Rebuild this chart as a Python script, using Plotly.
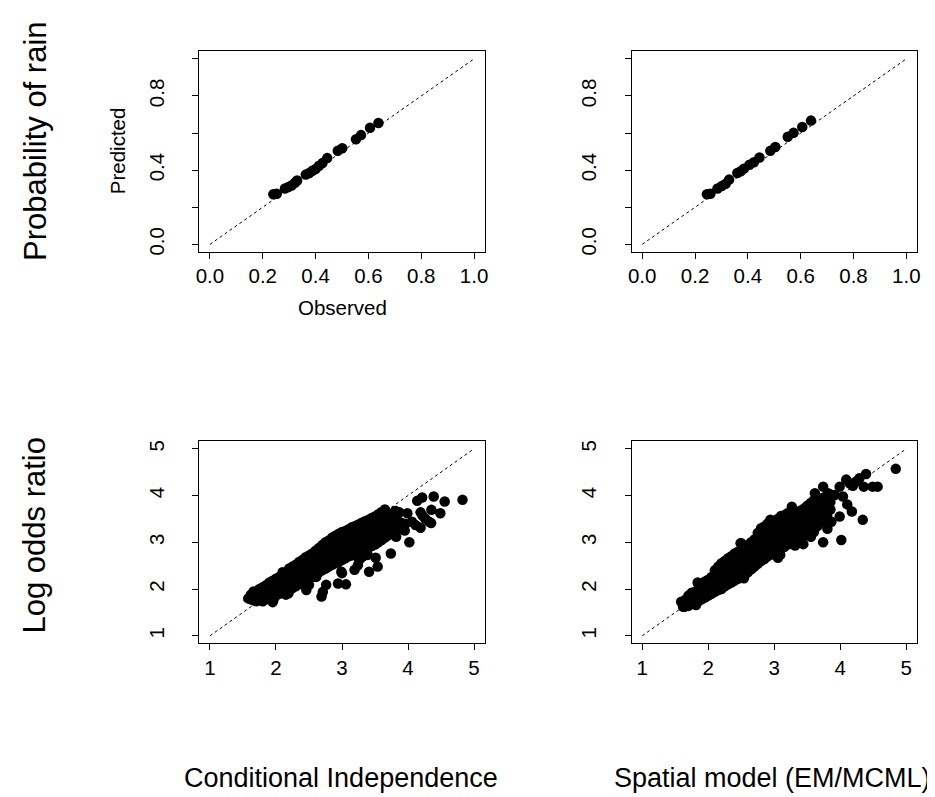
import plotly.graph_objects as go

W, H = 935, 797

# ---------------- data ----------------
prob_ci_obs = [0.240, 0.253, 0.284, 0.297, 0.309, 0.322, 0.330, 0.363, 0.376, 0.388,
               0.400, 0.413, 0.426, 0.444, 0.484, 0.501, 0.553, 0.572, 0.606, 0.638]
prob_ci_pred = [0.270, 0.273, 0.301, 0.309, 0.317, 0.332, 0.344, 0.376, 0.385, 0.397,
                0.406, 0.424, 0.438, 0.465, 0.504, 0.518, 0.567, 0.589, 0.628, 0.654]

prob_sp_obs = [0.245, 0.258, 0.285, 0.301, 0.316, 0.329, 0.360, 0.373, 0.385, 0.406,
               0.423, 0.444, 0.485, 0.504, 0.551, 0.573, 0.606, 0.639]
prob_sp_pred = [0.270, 0.273, 0.301, 0.314, 0.326, 0.349, 0.385, 0.394, 0.408, 0.429,
                0.443, 0.468, 0.504, 0.525, 0.580, 0.601, 0.633, 0.667]

# Conditional independence: observed log odds ratio (x) -> predicted values (y)
ci_rows = [
    (1.58, [1.80]), (1.62, [1.78, 1.88]), (1.66, [1.76, 1.86, 1.95]), (1.70, [1.74, 1.84, 1.94]),
    (1.75, [1.76, 1.88, 2.00]), (1.80, [1.74, 1.84, 1.94, 2.04]), (1.85, [1.78, 1.88, 1.98, 2.08]),
    (1.90, [1.80, 1.92, 2.04, 2.14]), (1.95, [1.72, 1.84, 1.96, 2.08, 2.18]),
    (2.00, [1.86, 1.98, 2.10, 2.22]), (2.05, [1.90, 2.02, 2.14, 2.26]),
    (2.10, [1.94, 2.06, 2.18, 2.30, 2.36]), (2.15, [1.88, 1.98, 2.10, 2.22, 2.34]),
    (2.20, [2.00, 2.12, 2.24, 2.36, 2.44]), (2.25, [2.02, 2.16, 2.28, 2.40, 2.48]),
    (2.30, [2.06, 2.20, 2.32, 2.44, 2.52]), (2.35, [2.10, 2.24, 2.36, 2.48, 2.58]),
    (2.40, [2.14, 2.28, 2.40, 2.52, 2.62]), (2.45, [2.18, 2.32, 2.44, 2.56, 2.68]),
    (2.50, [2.22, 2.36, 2.48, 2.60, 2.72]), (2.55, [2.26, 2.40, 2.52, 2.64, 2.76]),
    (2.60, [2.30, 2.44, 2.56, 2.68, 2.82]), (2.65, [2.36, 2.48, 2.60, 2.74, 2.88]),
    (2.70, [2.40, 2.52, 2.66, 2.80, 2.94]), (2.75, [2.44, 2.58, 2.72, 2.86, 3.00]),
    (2.80, [2.48, 2.62, 2.76, 2.90, 3.04]), (2.85, [2.52, 2.66, 2.80, 2.94, 3.10]),
    (2.90, [2.55, 2.70, 2.84, 2.98, 3.14]), (2.95, [2.58, 2.72, 2.88, 3.02, 3.18]),
    (3.00, [2.62, 2.76, 2.90, 3.06, 3.22]), (3.05, [2.66, 2.80, 2.94, 3.10, 3.24]),
    (3.10, [2.70, 2.84, 2.98, 3.14, 3.28]), (3.15, [2.72, 2.88, 3.02, 3.18, 3.32]),
    (3.20, [2.76, 2.92, 3.06, 3.22, 3.35]), (3.25, [2.80, 2.96, 3.10, 3.26, 3.38]),
    (3.30, [2.82, 2.98, 3.14, 3.30, 3.42]), (3.35, [2.86, 3.02, 3.18, 3.34, 3.45]),
    (3.40, [2.88, 3.04, 3.20, 3.36, 3.48]), (3.45, [2.92, 3.08, 3.24, 3.40, 3.52]),
    (3.50, [2.95, 3.12, 3.28, 3.44, 3.55]), (3.55, [3.00, 3.16, 3.32, 3.48, 3.60]),
    (3.60, [3.05, 3.20, 3.36, 3.52, 3.65]), (3.65, [3.10, 3.26, 3.42, 3.58, 3.70]),
    (3.70, [3.15, 3.30, 3.46, 3.62]), (3.75, [3.20, 3.36, 3.52]),
    (3.80, [3.22, 3.40, 3.55]), (3.85, [3.28, 3.45]), (3.90, [3.30, 3.42]), (3.95, [3.25]),
]
ci_extra_x = [4.825, 4.555, 4.389, 4.214, 4.139, 4.354, 4.489, 4.19, 4.22, 4.26, 4.32, 4.35,
              4.114, 4.19, 4.02, 3.99, 4.06, 3.96, 3.81, 3.87, 3.76, 3.82, 3.74, 3.69,
              3.54, 3.51, 3.41, 3.39, 3.39, 3.19, 3.24, 3.06, 2.94, 3.00, 2.99, 2.76,
              2.71, 2.69, 2.61, 2.46, 2.50, 2.56, 2.19, 1.96, 3.31, 3.26]
ci_extra_y = [3.907, 3.871, 3.979, 3.957, 3.886, 3.693, 3.621, 3.64, 3.57, 3.51, 3.44, 3.41,
              3.371, 3.31, 3.00, 3.62, 3.44, 3.39, 3.67, 3.64, 3.37, 3.12, 2.76, 3.16,
              2.48, 2.67, 2.37, 2.73, 2.94, 2.41, 2.51, 2.10, 2.12, 2.34, 2.37, 2.09,
              1.94, 1.84, 2.26, 1.98, 2.09, 2.26, 1.91, 1.76, 2.69, 2.62]

# Spatial model (EM/MCML)
sp_rows = [
    (1.62, [1.62, 1.72]), (1.66, [1.66, 1.78]), (1.70, [1.64, 1.75, 1.86]),
    (1.75, [1.68, 1.80, 1.92]), (1.80, [1.70, 1.82, 1.94]),
    (1.85, [1.74, 1.86, 1.98, 2.12]), (1.90, [1.78, 1.90, 2.02]),
    (1.95, [1.82, 1.94, 2.06, 2.16]), (2.00, [1.86, 1.98, 2.10, 2.20]),
    (2.05, [1.90, 2.02, 2.14, 2.26]), (2.10, [1.94, 2.06, 2.18, 2.30, 2.40]),
    (2.15, [1.98, 2.10, 2.22, 2.34, 2.48]), (2.20, [2.00, 2.14, 2.28, 2.42, 2.55]),
    (2.25, [2.06, 2.18, 2.32, 2.46, 2.60]), (2.30, [2.10, 2.24, 2.38, 2.52, 2.66]),
    (2.35, [2.14, 2.28, 2.42, 2.56, 2.70]), (2.40, [2.18, 2.32, 2.46, 2.60, 2.76]),
    (2.45, [2.22, 2.36, 2.50, 2.64, 2.80]), (2.50, [2.26, 2.40, 2.54, 2.68, 2.84, 2.98]),
    (2.55, [2.30, 2.44, 2.58, 2.72, 2.88]), (2.60, [2.36, 2.50, 2.64, 2.78, 2.94]),
    (2.65, [2.42, 2.56, 2.70, 2.84, 3.00]), (2.70, [2.48, 2.62, 2.76, 2.90, 3.06]),
    (2.75, [2.54, 2.68, 2.82, 2.96, 3.12, 3.20]), (2.80, [2.60, 2.74, 2.88, 3.02, 3.16, 3.30]),
    (2.85, [2.64, 2.78, 2.92, 3.06, 3.20, 3.34]), (2.90, [2.70, 2.84, 2.98, 3.12, 3.26, 3.40]),
    (2.95, [2.74, 2.88, 3.02, 3.16, 3.30, 3.46]), (3.00, [2.78, 2.92, 3.06, 3.20, 3.34, 3.46]),
    (3.05, [2.82, 2.96, 3.10, 3.24, 3.38, 3.50]), (3.10, [2.86, 3.00, 3.14, 3.28, 3.42, 3.56]),
    (3.15, [2.90, 3.04, 3.18, 3.32, 3.46, 3.58]), (3.20, [2.95, 3.08, 3.22, 3.36, 3.50, 3.62]),
    (3.25, [3.00, 3.12, 3.26, 3.40, 3.54, 3.64]), (3.30, [3.04, 3.16, 3.30, 3.44, 3.58, 3.66]),
    (3.35, [3.08, 3.20, 3.34, 3.48, 3.62]), (3.40, [3.10, 3.24, 3.38, 3.52, 3.68]),
    (3.45, [3.14, 3.28, 3.42, 3.56, 3.72]), (3.50, [3.16, 3.30, 3.46, 3.62, 3.78]),
    (3.55, [3.20, 3.36, 3.52, 3.68, 3.84]), (3.60, [3.22, 3.40, 3.56, 3.72, 3.90]),
    (3.65, [3.34, 3.50, 3.66, 3.82, 3.96]), (3.70, [3.42, 3.58, 3.74, 3.90]),
    (3.75, [3.50, 3.66, 3.82, 3.96]), (3.80, [3.58, 3.74, 3.90, 4.00]),
    (3.85, [3.70, 3.86, 4.02]),
]
sp_extra_x = [4.84, 4.565, 4.49, 4.39, 4.29, 4.24, 4.19, 4.09, 4.14, 4.355, 4.04, 3.99,
              3.915, 3.815, 3.74, 3.615, 4.105, 4.175, 4.34, 3.99, 4.015, 3.865, 3.815,
              3.805, 3.74, 3.555, 3.44, 3.315, 3.59, 3.465, 3.265, 3.09, 2.94, 2.865,
              3.055, 2.54, 2.49, 2.765, 1.84, 1.59, 1.64, 1.815]
sp_extra_y = [4.57, 4.19, 4.19, 4.46, 4.37, 4.30, 4.21, 4.34, 4.26, 4.19, 3.98, 4.19,
              4.01, 4.05, 4.19, 4.05, 3.81, 3.66, 3.48, 3.55, 3.05, 3.44, 3.48,
              3.29, 3.00, 3.12, 2.96, 2.93, 3.34, 3.30, 3.76, 2.73, 3.48, 3.19,
              2.67, 2.23, 2.98, 3.05, 2.14, 1.73, 1.62, 1.66]

prob_ticks = [0.0, 0.2, 0.4, 0.6, 0.8, 1.0]
prob_xtext = ["0.0", "0.2", "0.4", "0.6", "0.8", "1.0"]
prob_ytext = ["0.0", "", "0.4", "", "0.8", ""]
lor_ticks = [1, 2, 3, 4, 5]
lor_text = ["1", "2", "3", "4", "5"]

# ---------------- figure ----------------
def expand(rows, ex, ey):
    xs, ys = [], []
    for x, yl in rows:
        for y in yl:
            xs.append(x)
            ys.append(y)
    return xs + ex, ys + ey

ci_x, ci_y = expand(ci_rows, ci_extra_x, ci_extra_y)
sp_x, sp_y = expand(sp_rows, sp_extra_x, sp_extra_y)

FONT = "Liberation Sans, Arial, Helvetica, sans-serif"
fig = go.Figure()
MS = 10.5

panels = [
    ("x", "y", prob_ci_obs, prob_ci_pred, [0, 1]),
    ("x2", "y2", prob_sp_obs, prob_sp_pred, [0, 1]),
    ("x3", "y3", ci_x, ci_y, [1, 5]),
    ("x4", "y4", sp_x, sp_y, [1, 5]),
]
for xa, ya, xs, ys, diag in panels:
    fig.add_trace(go.Scatter(x=diag, y=diag, mode="lines", xaxis=xa, yaxis=ya,
                             line=dict(color="black", width=1, dash="dot"),
                             hoverinfo="skip", showlegend=False))
    fig.add_trace(go.Scatter(x=xs, y=ys, mode="markers", xaxis=xa, yaxis=ya,
                             marker=dict(color="black", size=MS, line=dict(width=0)),
                             showlegend=False))

def px(v): return v / W
def py(v): return 1 - v / H

colL = [px(189), px(476.7)]
colR = [px(625), px(912.7)]
rowT = [py(244.3), py(42.7)]
rowB = [py(638.3), py(435)]

TICKSIZE = 20.5

def common(standoff):
    return dict(showline=True, linecolor="black", linewidth=1, mirror=True,
                ticks="outside", ticklen=6, tickcolor="black", tickwidth=1,
                showgrid=False, zeroline=False,
                tickfont=dict(family=FONT, size=TICKSIZE, color="black"),
                ticklabelstandoff=standoff)

def xax(dom, anchor, rng, tv, tt):
    return dict(domain=dom, anchor=anchor, range=rng, tickmode="array", tickvals=tv,
                ticktext=tt, tickangle=0, **common(0))

def yax(dom, anchor, rng, tv, tt):
    return dict(domain=dom, anchor=anchor, range=rng, tickmode="array", tickvals=tv,
                ticktext=tt, tickangle=-90, **common(20))

prng = [-0.04, 1.04]
lrng = [0.84, 5.16]
fig.update_layout(
    width=W, height=H, margin=dict(l=0, r=0, t=0, b=0),
    paper_bgcolor="white", plot_bgcolor="white",
    xaxis=xax(colL, "y", prng, prob_ticks, prob_xtext),
    yaxis=yax(rowT, "x", prng, prob_ticks, prob_ytext),
    xaxis2=xax(colR, "y2", prng, prob_ticks, prob_xtext),
    yaxis2=yax(rowT, "x2", prng, prob_ticks, prob_ytext),
    xaxis3=xax(colL, "y3", lrng, lor_ticks, lor_text),
    yaxis3=yax(rowB, "x3", lrng, lor_ticks, lor_text),
    xaxis4=xax(colR, "y4", lrng, lor_ticks, lor_text),
    yaxis4=yax(rowB, "x4", lrng, lor_ticks, lor_text),
    showlegend=False,
)

def ann(text, x, y, size, angle=0):
    fig.add_annotation(text=text, xref="paper", yref="paper", x=px(x), y=py(y),
                       xanchor="center", yanchor="middle", showarrow=False,
                       textangle=angle, font=dict(family=FONT, size=size, color="black"))

ann("Probability of rain", 23, 133, 31, -90)
ann("Log odds ratio", 23, 530, 31, -90)
ann("Predicted", 106, 143, 20.5, -90)
ann("Observed", 333, 300, 20.5)
ann("Conditional Independence", 332, 774, 27)
ann("Spatial model (EM/MCML)", 767, 774, 27)

fig.write_html("out.html")
